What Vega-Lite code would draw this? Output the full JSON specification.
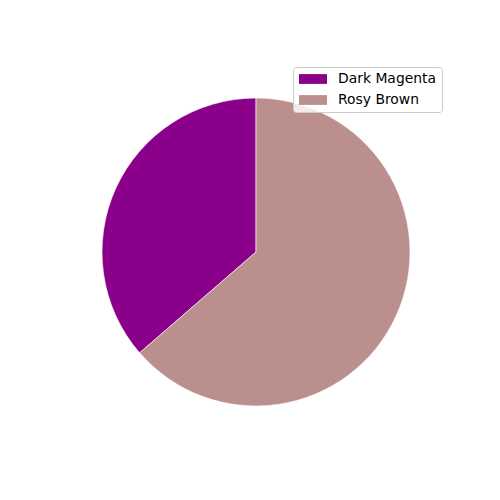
{
  "$schema": "https://vega.github.io/schema/vega-lite/v6.json",
  "width": 488,
  "height": 496,
  "autosize": "none",
  "padding": {"left": 12, "top": 4, "right": 0, "bottom": 0},
  "background": "white",
  "config": {"view": {"stroke": null}},
  "data": {"values": [
    {"label": "Dark Magenta", "value": 4, "ord": 2},
    {"label": "Rosy Brown", "value": 7, "ord": 1}
  ]},
  "mark": {"type": "arc", "outerRadius": 154, "stroke": "white", "strokeWidth": 0.6},
  "encoding": {
    "theta": {"field": "value", "type": "quantitative", "stack": true},
    "order": {"field": "ord", "type": "quantitative"},
    "color": {
      "field": "label", "type": "nominal",
      "scale": {"domain": ["Dark Magenta", "Rosy Brown"], "range": ["#8B008B", "#BC8F8F"]},
      "legend": {
        "title": null,
        "orient": "none",
        "legendX": 281,
        "legendY": 63,
        "padding": 5,
        "fillColor": "rgba(255,255,255,0.8)",
        "strokeColor": "#cccccc",
        "cornerRadius": 3,
        "symbolType": "M-2,-0.7L2,-0.7L2,0.7L-2,0.7Z",
        "symbolSize": 196,
        "symbolOffset": 8,
        "symbolStrokeWidth": 0,
        "symbolOpacity": 1,
        "labelFont": "DejaVu Sans",
        "labelFontSize": 13.9,
        "labelColor": "#000000",
        "labelOffset": 18,
        "rowPadding": 7
      }
    }
  }
}
